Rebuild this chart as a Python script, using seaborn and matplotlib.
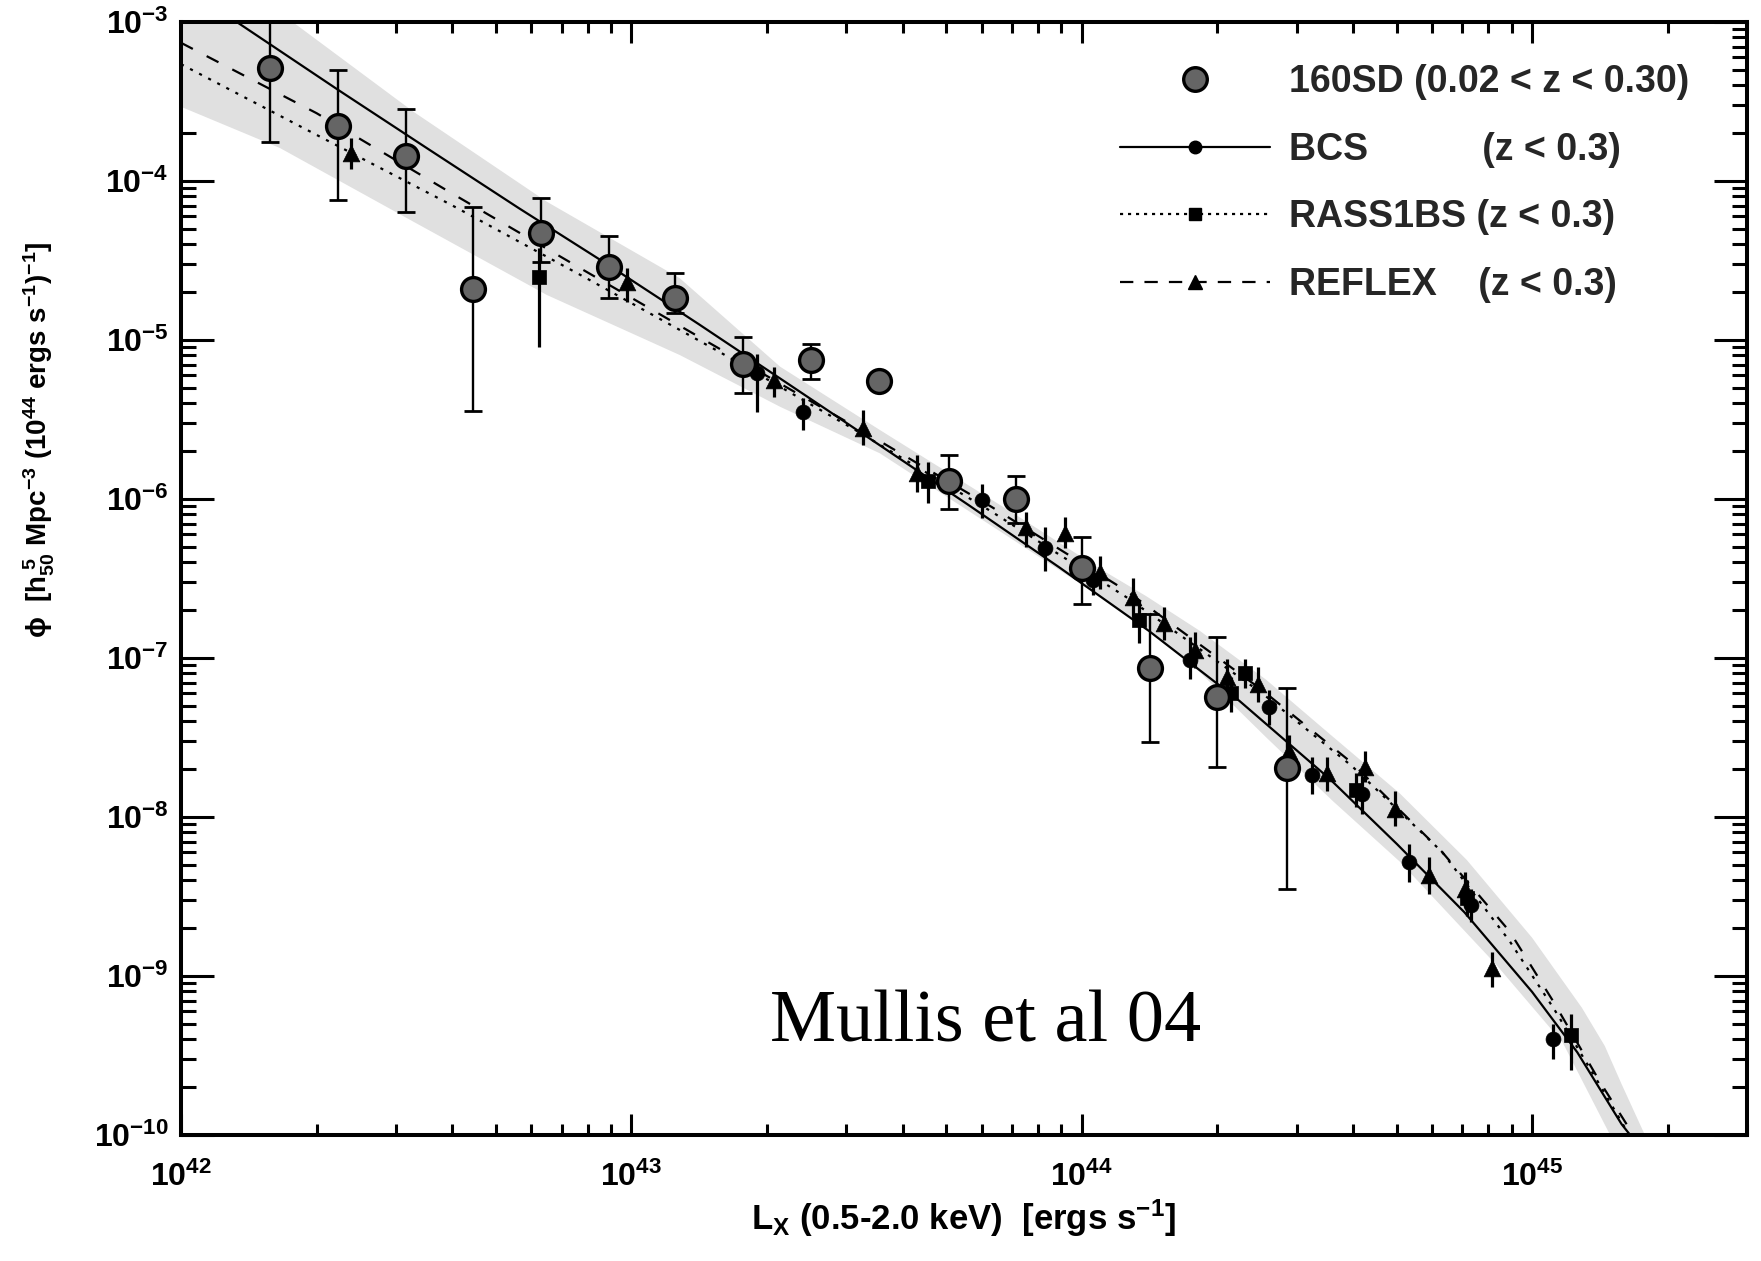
import numpy as np
import matplotlib
matplotlib.use("Agg")
import matplotlib.pyplot as plt
from matplotlib import font_manager
from matplotlib.lines import Line2D
from matplotlib.ticker import FixedLocator, FixedFormatter, LogLocator, NullFormatter
import seaborn as sns

# ---------------------------------------------------------------------------
# X-ray luminosity function of galaxy clusters, 0.5-2.0 keV band
# ---------------------------------------------------------------------------

# 160SD binned luminosity function (grey circles) with 1-sigma bounds
sd160_L = [1.58e42, 2.23e42, 3.16e42, 4.46e42, 6.30e42, 8.90e42, 1.25e43, 1.77e43,
           2.51e43, 3.55e43, 5.06e43, 7.13e43, 1.00e44, 1.42e44, 2.00e44, 2.85e44]
sd160_phi = [5.1e-4, 2.22e-4, 1.44e-4, 2.09e-5, 4.69e-5, 2.86e-5, 1.85e-5, 7.06e-6,
             7.48e-6, 5.52e-6, 1.29e-6, 9.95e-7, 3.67e-7, 8.6e-8, 5.71e-8, 2.02e-8]
sd160_lo = [1.77e-4, 7.6e-5, 6.35e-5, 3.57e-6, 3.1e-5, 1.85e-5, 1.47e-5, 4.62e-6,
            5.7e-6, 4.9e-6, 8.65e-7, 7.1e-7, 2.19e-7, 2.95e-8, 2.05e-8, 3.5e-9]
sd160_hi = [1.2e-3, 4.99e-4, 2.84e-4, 6.9e-5, 7.85e-5, 4.5e-5, 2.65e-5, 1.04e-5,
            9.5e-6, 6.2e-6, 1.89e-6, 1.4e-6, 5.8e-7, 1.9e-7, 1.36e-7, 6.5e-8]

# BCS (filled circles)
bcs_L = [1.90e43, 2.41e43, 6.00e43, 8.28e43, 1.06e44, 1.74e44, 2.60e44, 3.24e44,
         4.18e44, 5.33e44, 7.30e44, 1.11e45]
bcs_phi = [6.2e-6, 3.55e-6, 9.9e-7, 4.9e-7, 3.1e-7, 9.7e-8, 4.9e-8, 1.84e-8,
           1.39e-8, 5.2e-9, 2.8e-9, 4.0e-10]
bcs_lo = [3.5e-6, 2.7e-6, 7.6e-7, 3.5e-7, 2.5e-7, 7.4e-8, 3.8e-8, 1.4e-8,
          1.05e-8, 3.9e-9, 2.2e-9, 3.0e-10]
bcs_hi = [8.2e-6, 4.3e-6, 1.24e-6, 6.7e-7, 3.9e-7, 1.36e-7, 6.3e-8, 2.4e-8,
          1.8e-8, 6.8e-9, 3.5e-9, 5.0e-10]

# RASS1BS (filled squares)
rass_L = [6.22e42, 4.55e43, 1.34e44, 2.15e44, 2.30e44, 4.07e44, 7.16e44, 1.22e45]
rass_phi = [2.5e-5, 1.3e-6, 1.73e-7, 6.0e-8, 8.0e-8, 1.48e-8, 3.1e-9, 4.26e-10]
rass_lo = [9.1e-6, 9.5e-7, 1.24e-7, 4.6e-8, 6.5e-8, 1.15e-8, 2.4e-9, 2.56e-10]
rass_hi = [3.8e-5, 1.7e-6, 2.3e-7, 7.6e-8, 9.8e-8, 1.9e-8, 4.0e-9, 5.8e-10]

# REFLEX (filled triangles)
reflex_L = [2.38e42, 9.76e42, 2.07e43, 3.26e43, 4.30e43, 7.53e43, 9.20e43, 1.10e44,
            1.30e44, 1.52e44, 1.78e44, 2.10e44, 2.46e44, 2.88e44, 3.50e44, 4.26e44,
            4.96e44, 5.90e44, 7.10e44, 8.13e44]
reflex_phi = [1.51e-4, 2.33e-5, 5.6e-6, 2.78e-6, 1.45e-6, 6.7e-7, 6.1e-7, 3.45e-7,
              2.43e-7, 1.65e-7, 1.12e-7, 7.6e-8, 6.9e-8, 2.6e-8, 1.88e-8, 2.07e-8,
              1.13e-8, 4.3e-9, 3.5e-9, 1.12e-9]
reflex_lo = [1.19e-4, 1.74e-5, 4.4e-6, 2.19e-6, 1.1e-6, 5.0e-7, 4.9e-7, 2.7e-7,
             1.8e-7, 1.3e-7, 8.6e-8, 5.8e-8, 5.3e-8, 2.0e-8, 1.45e-8, 1.65e-8,
             8.8e-9, 3.3e-9, 2.7e-9, 8.5e-10]
reflex_hi = [1.86e-4, 2.84e-5, 6.8e-6, 3.63e-6, 1.9e-6, 8.3e-7, 7.7e-7, 4.4e-7,
             3.2e-7, 2.1e-7, 1.45e-7, 9.8e-8, 8.8e-8, 3.3e-8, 2.4e-8, 2.6e-8,
             1.45e-8, 5.6e-9, 4.5e-9, 1.42e-9]

# Best-fit luminosity-function curves of the three surveys
bcs_curve_L = [1.33e42, 2.24e42, 3.55e42, 5.62e42, 8.91e42, 1.41e43, 2.24e43, 3.55e43,
               5.62e43, 8.91e43, 1.41e44, 2.24e44, 3.55e44, 5.01e44, 7.08e44, 1.00e45,
               1.26e45, 1.58e45, 1.70e45]
bcs_curve_phi = [1.0e-3, 3.72e-4, 1.58e-4, 6.76e-5, 2.95e-5, 1.26e-5, 5.25e-6, 2.19e-6,
                 9.12e-7, 3.72e-7, 1.48e-7, 5.37e-8, 1.74e-8, 6.76e-9, 2.51e-9, 7.94e-10,
                 3.31e-10, 1.17e-10, 9.0e-11]

reflex_curve_L = [1.00e42, 2.00e42, 3.98e42, 7.94e42, 1.58e43, 3.16e43, 6.31e43, 1.26e44,
                  2.51e44, 3.98e44, 6.31e44, 8.91e44, 1.12e45, 1.41e45, 1.66e45, 1.78e45]
reflex_curve_phi = [7.4e-4, 2.67e-4, 8.41e-5, 2.69e-5, 8.71e-6, 2.82e-6, 8.91e-7, 2.63e-7,
                    6.31e-8, 2.19e-8, 6.03e-9, 1.91e-9, 6.76e-10, 2.19e-10, 1.05e-10, 7.9e-11]

rass_curve_L = [1.00e42, 2.00e42, 3.98e42, 7.94e42, 1.58e43, 3.16e43, 6.31e43, 1.26e44,
                2.51e44, 3.98e44, 6.31e44, 8.91e44, 1.12e45, 1.41e45, 1.66e45]
rass_curve_phi = [5.43e-4, 1.95e-4, 7.08e-5, 2.45e-5, 8.32e-6, 2.69e-6, 8.32e-7, 2.40e-7,
                  6.03e-8, 2.09e-8, 6.03e-9, 1.66e-9, 6.17e-10, 2.09e-10, 9.5e-11]

# Shaded uncertainty envelope (upper and lower edges)
band_upper_L = [1.00e42, 1.77e42, 3.28e42, 6.49e42, 1.28e43, 2.14e43, 3.56e43, 7.05e43,
                1.10e44, 1.39e44, 1.83e44, 2.57e44, 3.61e44, 5.08e44, 7.16e44, 1.00e45,
                1.29e45, 1.45e45, 1.58e45, 1.78e45]
band_upper_phi = [1.0e-3, 1.0e-3, 2.73e-4, 7.41e-5, 2.45e-5, 6.79e-6, 2.72e-6, 8.13e-7,
                  3.63e-7, 2.45e-7, 1.48e-7, 7.28e-8, 3.20e-8, 1.41e-8, 5.37e-9, 1.74e-9,
                  6.31e-10, 3.63e-10, 2.09e-10, 1.0e-10]
band_lower_L = [1.00e42, 1.66e42, 3.28e42, 6.49e42, 1.28e43, 2.14e43, 3.56e43, 7.05e43,
                1.39e44, 1.83e44, 2.57e44, 3.61e44, 5.08e44, 8.34e44, 1.17e45, 1.49e45]
band_lower_phi = [2.93e-4, 1.61e-4, 5.55e-5, 1.92e-5, 8.05e-6, 3.80e-6, 1.94e-6, 5.52e-7,
                  1.57e-7, 8.13e-8, 3.16e-8, 1.26e-8, 5.25e-9, 1.17e-9, 3.80e-10, 1.0e-10]

x_decades = [42, 43, 44, 45]
y_decades = [-10, -9, -8, -7, -6, -5, -4, -3]

legend_labels = ["160SD (0.02 < z < 0.30)", "BCS           (z < 0.3)",
                 "RASS1BS (z < 0.3)", "REFLEX    (z < 0.3)"]
annotation = "Mullis et al 04"

# ---------------------------------------------------------------------------
sns.set_theme(style="ticks")
available = {f.name for f in font_manager.fontManager.ttflist}
SANS = "Liberation Sans Narrow" if "Liberation Sans Narrow" in available else "Liberation Sans"
plt.rcParams["font.family"] = [SANS, "DejaVu Sans"]
plt.rcParams["font.weight"] = "bold"
plt.rcParams["mathtext.fontset"] = "custom"
for key in ("rm", "it", "bf", "sf"):
    plt.rcParams[f"mathtext.{key}"] = f"{SANS}:bold"

W, H = 1761, 1261
fig = plt.figure(figsize=(W / 100, H / 100), dpi=100)
fig.patch.set_facecolor("white")
ax_left, ax_right, ax_top, ax_bottom = 181, 1747, 22, 1135
ax = fig.add_axes([ax_left / W, 1 - ax_bottom / H,
                   (ax_right - ax_left) / W, (ax_bottom - ax_top) / H])
ax.set_facecolor("white")
ax.set_xscale("log")
ax.set_yscale("log")
ax.set_xlim(1e42, 3e45)
ax.set_ylim(1e-10, 1e-3)

# envelope
env_x = np.concatenate([band_upper_L, band_lower_L[::-1]])
env_y = np.concatenate([band_upper_phi, band_lower_phi[::-1]])
ax.fill(env_x, env_y, color="#e0e0e0", lw=0, zorder=1)

# fitted curves
line_kw = dict(ax=ax, color="black", lw=1.6, sort=False, estimator=None, legend=False)
sns.lineplot(x=bcs_curve_L, y=bcs_curve_phi, zorder=2, **line_kw)
sns.lineplot(x=reflex_curve_L, y=reflex_curve_phi, linestyle=(0, (6, 7)), zorder=2, **line_kw)
sns.lineplot(x=rass_curve_L, y=rass_curve_phi, linestyle=(0, (1.4, 3.2)), zorder=2, **line_kw)


def bars(L, phi, lo, hi, **kw):
    phi = np.asarray(phi)
    err = [phi - np.asarray(lo), np.asarray(hi) - phi]
    ax.errorbar(L, phi, yerr=err, fmt="none", ecolor="black", **kw)


# survey data points
for L, phi, lo, hi, mk, s in [(bcs_L, bcs_phi, bcs_lo, bcs_hi, "o", 115),
                              (rass_L, rass_phi, rass_lo, rass_hi, "s", 95),
                              (reflex_L, reflex_phi, reflex_lo, reflex_hi, "^", 145)]:
    bars(L, phi, lo, hi, elinewidth=2.3, capsize=0, zorder=3)
    sns.scatterplot(x=L, y=phi, ax=ax, marker=mk, s=s, color="black",
                    edgecolor="black", linewidth=0.5, zorder=4, legend=False)

bars(sd160_L, sd160_phi, sd160_lo, sd160_hi, elinewidth=1.7, capsize=6.5,
     capthick=2.0, zorder=5)
sns.scatterplot(x=sd160_L, y=sd160_phi, ax=ax, marker="o", s=295, color="#656565",
                edgecolor="black", linewidth=2.4, zorder=6, legend=False)

# axes frame and ticks
for sp in ax.spines.values():
    sp.set_linewidth(2.9)
    sp.set_color("black")
    sp.set_visible(True)

ax.xaxis.set_major_locator(FixedLocator([10.0 ** d for d in x_decades]))
ax.xaxis.set_major_formatter(FixedFormatter([rf"$\mathbf{{10^{{{d}}}}}$" for d in x_decades]))
ax.yaxis.set_major_locator(FixedLocator([10.0 ** d for d in y_decades]))
ax.yaxis.set_major_formatter(FixedFormatter([rf"$\mathbf{{10^{{{d}}}}}$" for d in y_decades]))
ax.xaxis.set_minor_locator(LogLocator(base=10, subs=np.arange(2, 10), numticks=20))
ax.yaxis.set_minor_locator(LogLocator(base=10, subs=np.arange(2, 10), numticks=20))
ax.xaxis.set_minor_formatter(NullFormatter())
ax.yaxis.set_minor_formatter(NullFormatter())

ax.tick_params(which="both", direction="in", top=True, right=True, width=2.2,
               color="black", labelcolor="black")
ax.tick_params(axis="x", which="major", length=15, labelsize=23, pad=19)
ax.tick_params(axis="x", which="minor", length=8)
ax.tick_params(axis="y", which="major", length=24, labelsize=23, pad=9)
ax.tick_params(axis="y", which="minor", length=11)

ax.set_xlabel(r"L$_{X}$ (0.5-2.0 keV)  [ergs s$^{-1}$]", fontsize=25,
              fontweight="bold", color="black")
ax.xaxis.label.set_va("center")
ax.xaxis.set_label_coords(0.5, -0.075)
ax.set_ylabel("\u03d5  [h$_{50}^{\\ 5}$ Mpc$^{-3}$ (10$^{44}$ ergs s$^{-1}$)$^{-1}$]",
              fontsize=20, fontweight="bold", color="black")
ax.yaxis.label.set_va("center")
ax.yaxis.set_label_coords(-0.0905, 0.6245)

# legend
handles = [
    Line2D([], [], ls="none", marker="o", ms=17, mfc="#656565", mec="black", mew=2.4),
    Line2D([], [], color="black", lw=1.6, marker="o", ms=9),
    Line2D([], [], color="black", lw=1.6, ls=(0, (1.4, 2.2)), marker="s", ms=8.5),
    Line2D([], [], color="black", lw=1.6, ls=(0, (6, 5)), marker="^", ms=10),
]
leg = ax.legend(handles, legend_labels, loc="upper left",
                bbox_to_anchor=((1120 - ax_left) / (ax_right - ax_left), 0.962),
                frameon=False, fontsize=27, handlelength=4.0, handletextpad=0.5,
                labelspacing=0.84, borderpad=0, borderaxespad=0)
for t in leg.get_texts():
    t.set_fontweight("bold")

ax.text((770 - ax_left) / (ax_right - ax_left), (ax_bottom - 1041) / (ax_bottom - ax_top),
        annotation, transform=ax.transAxes, ha="left", va="baseline",
        fontsize=53.5, fontweight="normal", family="Liberation Serif", color="black")

fig.savefig("out.png", dpi=100, facecolor="white")
